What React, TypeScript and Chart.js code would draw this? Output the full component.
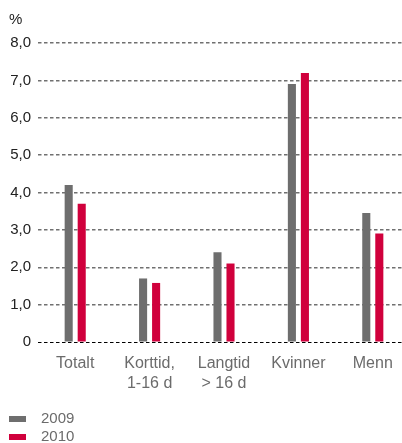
import React, { useEffect, useRef } from "react";
import { Chart, registerables } from "chart.js";

Chart.register(...registerables);

const categories: (string | string[])[] = [
  "Totalt",
  ["Korttid,", "1-16 d"],
  ["Langtid", "> 16 d"],
  "Kvinner",
  "Menn",
];
const seriesNames = ["2009", "2010"];
const values2009 = [4.2, 1.7, 2.4, 6.9, 3.45];
const values2010 = [3.7, 1.58, 2.1, 7.2, 2.9];
const yTickLabels = ["0", "1,0", "2,0", "3,0", "4,0", "5,0", "6,0", "7,0", "8,0"];
const unitLabel = "%";

const FONT = "'Liberation Sans', Arial, Helvetica, sans-serif";
const GRAY = "#6e6e6e";
const RED = "#d0003c";

const overlayPlugin = {
  id: "overlay",
  afterDraw(chart: any) {
    const ctx = chart.ctx;
    ctx.save();
    ctx.font = `15px ${FONT}`;
    ctx.textBaseline = "middle";
    ctx.textAlign = "left";
    ctx.fillStyle = "#222";
    ctx.fillText(unitLabel, 9, 20);
    chart.data.datasets.forEach((ds: any, i: number) => {
      const y = 419 + i * 18;
      ctx.fillStyle = ds.backgroundColor;
      ctx.fillRect(9, y - 3, 17, 6);
      ctx.fillStyle = "#6b6b6b";
      ctx.fillText(ds.label, 41, y);
    });
    ctx.restore();
  },
};

export default function App() {
  const ref = useRef<HTMLCanvasElement | null>(null);
  useEffect(() => {
    if (!ref.current) return;
    const chart = new Chart(ref.current, {
      type: "bar",
      data: {
        labels: categories,
        datasets: [
          { label: seriesNames[0], data: values2009, backgroundColor: GRAY },
          { label: seriesNames[1], data: values2010, backgroundColor: RED },
        ],
      },
      options: {
        animation: false,
        responsive: false,
        devicePixelRatio: 1,
        layout: { padding: { top: 43, right: 10, bottom: 42, left: 0 } },
        plugins: { legend: { display: false }, tooltip: { enabled: false } },
        datasets: { bar: { categoryPercentage: 0.35, barPercentage: 0.62 } },
        scales: {
          x: {
            offset: true,
            grid: { display: false, drawTicks: false },
            border: { display: false },
            ticks: {
              color: "#6b6b6b",
              padding: 12,
              font: { family: FONT, size: 16, lineHeight: 1.22 },
              maxRotation: 0,
              autoSkip: false,
            },
            afterFit: (s: any) => {
              s.height = 59;
            },
          },
          y: {
            min: 0,
            max: 8,
            border: { display: false, dash: [3.5, 2.5] },
            grid: {
              drawTicks: false,
              color: (c: any) => (c.tick && c.tick.value === 0 ? "#000" : "#707070"),
              lineWidth: (c: any) => (c.tick && c.tick.value === 0 ? 1 : 1.5),
            },
            ticks: {
              stepSize: 1,
              color: "#222",
              padding: 7,
              font: { family: FONT, size: 15 },
              callback: (_v: any, i: number) => yTickLabels[i],
            },
            afterFit: (s: any) => {
              s.width = 38;
            },
          },
        },
      },
      plugins: [overlayPlugin],
    });
    return () => chart.destroy();
  }, []);
  return (
    <div style={{ position: "fixed", left: 0, top: 0, width: 420, height: 443, background: "#fff" }}>
      <canvas ref={ref} width={420} height={443} style={{ display: "block" }} />
    </div>
  );
}
